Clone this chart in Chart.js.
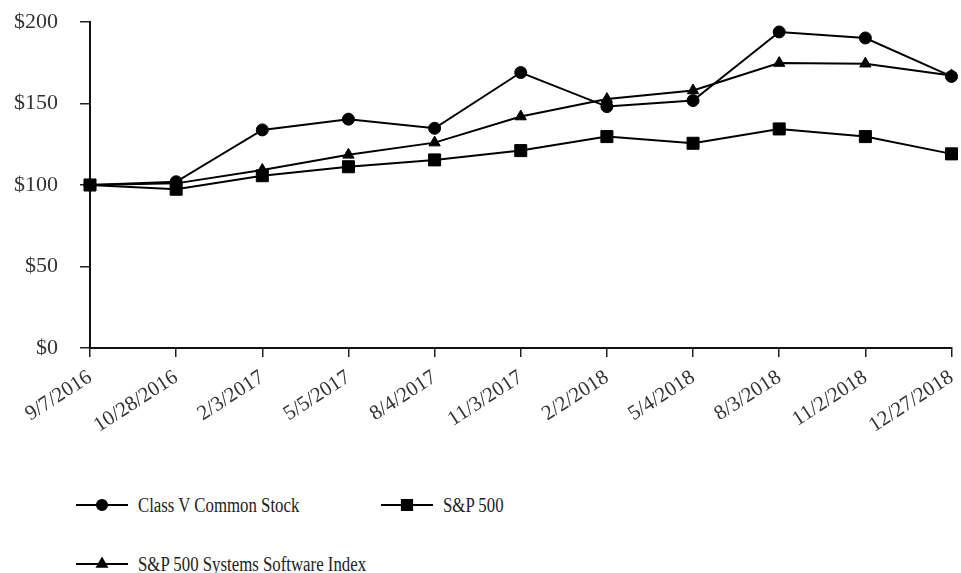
<!DOCTYPE html>
<html lang="en">
<head>
<meta charset="utf-8">
<script src="https://cdn.jsdelivr.net/npm/chart.js@4.4.1/dist/chart.umd.min.js"></script>
<style>
  html, body { margin: 0; padding: 0; background: #fff; }
  .wrap { position: relative; width: 961px; height: 573px; font-family: 'Liberation Serif', 'Times New Roman', serif; }
  .chart-box { position: absolute; left: 0; top: 0; width: 961px; height: 440px; }
  .legend-item { position: absolute; display: flex; align-items: center; font-size: 20px; color: #222; white-space: nowrap; }
  .legend-item canvas { margin-right: 10px; }
  .legend-item span { display: inline-block; transform: scaleX(0.84); transform-origin: left center; }
</style>
</head>
<body>
<div class="wrap">
  <div class="chart-box"><canvas id="perfChart"></canvas></div>
  <div id="legend"></div>
</div>
<script>
// data
const categories = ['9/7/2016', '10/28/2016', '2/3/2017', '5/5/2017', '8/4/2017', '11/3/2017',
                    '2/2/2018', '5/4/2018', '8/3/2018', '11/2/2018', '12/27/2018'];
const classV      = [100, 102.0, 133.8, 140.4, 134.8, 169.0, 148.1, 151.8, 193.9, 190.2, 166.6];
const sp500       = [100, 97.4, 105.7, 111.2, 115.4, 121.1, 129.7, 125.6, 134.4, 129.7, 119.1];
const sysSoftware = [100, 101.0, 109.2, 118.5, 126.0, 142.0, 152.7, 158.0, 174.8, 174.4, 167.2];
const yTicks = [0, 50, 100, 150, 200];

const seriesNames = ['Class V Common Stock', 'S&P 500', 'S&P 500 Systems Software Index'];

function series(label, data, style, radius) {
  return {
    label: label,
    data: data,
    borderColor: '#000',
    backgroundColor: '#000',
    borderWidth: 2,
    pointStyle: style,
    pointRadius: radius,
    pointBorderWidth: 1,
    tension: 0
  };
}

const chart = new Chart(document.getElementById('perfChart'), {
  type: 'line',
  data: {
    labels: categories,
    datasets: [
      series(seriesNames[2], sysSoftware, 'triangle', 6.5),
      series(seriesNames[1], sp500, 'rect', 8.5),
      series(seriesNames[0], classV, 'circle', 6)
    ]
  },
  options: {
    responsive: true,
    maintainAspectRatio: false,
    animation: false,
    layout: { padding: { top: 22, right: 8, left: 0, bottom: 0 } },
    plugins: { legend: { display: false }, tooltip: { enabled: false } },
    scales: {
      x: {
        offset: false,
        // pin the plot box to the reference position
        afterFit: function(s) { s.height = 92; s.paddingLeft = 0; s.paddingRight = 0; },
        grid: { drawOnChartArea: false, drawTicks: true, tickLength: 9, color: '#222', lineWidth: 1.5 },
        border: { color: '#111', width: 2 },
        ticks: {
          minRotation: 33, maxRotation: 33, autoSkip: false, padding: 8,
          color: '#333', font: { family: "'Liberation Serif', 'Times New Roman', serif", size: 21 }
        }
      },
      y: {
        min: 0, max: 200,
        afterFit: function(s) { s.width = 90; s.paddingTop = 0; s.paddingBottom = 0; },
        afterBuildTicks: function(s) { s.ticks = yTicks.map(v => ({ value: v })); },
        grid: { drawOnChartArea: false, drawTicks: true, tickLength: 10, color: '#222', lineWidth: 1.5 },
        border: { color: '#111', width: 2 },
        ticks: {
          padding: 22,
          color: '#333',
          font: { family: "'Liberation Serif', 'Times New Roman', serif", size: 22 },
          callback: v => '$' + v
        }
      }
    }
  }
});

// html legend, in the reference order
const legendPos = [
  { name: seriesNames[0], left: 76, top: 505 },
  { name: seriesNames[1], left: 381, top: 505 },
  { name: seriesNames[2], left: 76, top: 564 }
];
const legendEl = document.getElementById('legend');
legendPos.forEach(p => {
  const ds = chart.data.datasets.find(d => d.label === p.name);
  const item = document.createElement('div');
  item.className = 'legend-item';
  item.style.left = p.left + 'px';
  item.style.top = (p.top - 12) + 'px';
  const c = document.createElement('canvas');
  c.width = 52; c.height = 24;
  const ctx = c.getContext('2d');
  ctx.strokeStyle = '#000';
  ctx.lineWidth = 2;
  ctx.beginPath(); ctx.moveTo(0, 12); ctx.lineTo(52, 12); ctx.stroke();
  ctx.fillStyle = '#000';
  Chart.helpers.drawPoint(ctx, { pointStyle: ds.pointStyle, radius: ds.pointRadius * 0.85, borderWidth: 1 }, 26, 12);
  const span = document.createElement('span');
  span.textContent = p.name;
  item.appendChild(c);
  item.appendChild(span);
  legendEl.appendChild(item);
});
</script>
</body>
</html>
